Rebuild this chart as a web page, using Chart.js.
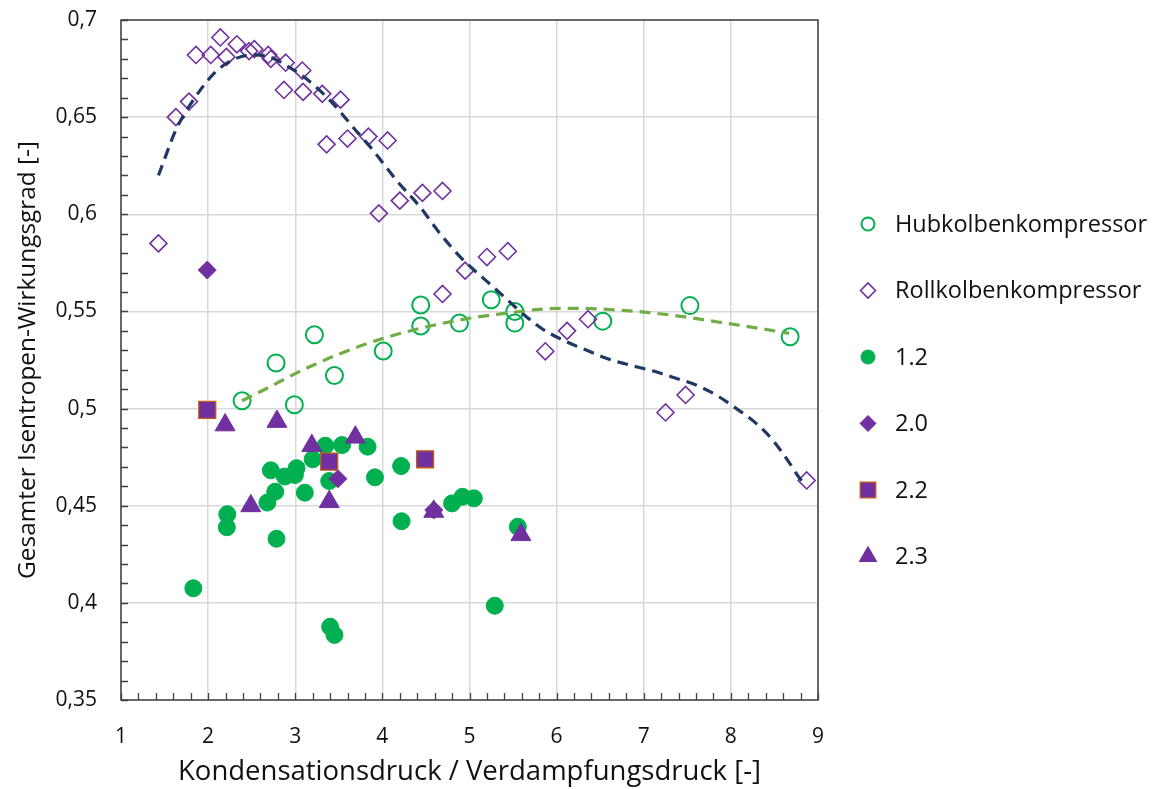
<!DOCTYPE html>
<html>
<head>
<meta charset="utf-8">
<script src="https://cdn.jsdelivr.net/npm/chart.js@4/dist/chart.umd.min.js"></script>
<style>
  html, body { margin: 0; padding: 0; background: #fff; }
  #wrap { width: 1155px; height: 789px; }
</style>
</head>
<body>
<div id="wrap"><canvas id="c"></canvas></div>
<script>
// Hubkolbenkompressor (offene Kreise)
const hubX = [2.39, 2.78, 2.99, 3.22, 3.45, 4.01, 4.44, 4.44, 4.885, 5.25, 5.52, 5.52, 6.53, 7.53, 8.68];
const hubY = [0.504, 0.5235, 0.502, 0.538, 0.517, 0.5296, 0.5533, 0.5425, 0.544, 0.556, 0.550, 0.544, 0.545, 0.553, 0.537];

// Rollkolbenkompressor (offene Rauten)
const rollX = [1.43, 1.63, 1.78, 1.86, 2.03, 2.14, 2.21, 2.33, 2.47, 2.53, 2.69, 2.72, 2.89, 2.87, 3.08, 3.09, 3.31, 3.52,
               3.36, 3.60, 3.84, 4.06, 3.96, 4.20, 4.46, 4.69, 4.95, 5.20, 5.44, 4.69, 5.87, 6.12, 6.36, 7.25, 7.48, 8.87];
const rollY = [0.585, 0.650, 0.658, 0.682, 0.682, 0.691, 0.681, 0.6875, 0.684, 0.685, 0.682, 0.680, 0.678, 0.664, 0.674, 0.663, 0.662, 0.659,
               0.636, 0.639, 0.640, 0.638, 0.6005, 0.607, 0.611, 0.612, 0.571, 0.578, 0.581, 0.559, 0.5295, 0.540, 0.546, 0.498, 0.507, 0.463];

// Serie 1.2
const s12X = [1.83, 2.22, 2.215, 2.785, 2.68, 2.77, 2.72, 2.88, 2.996, 3.015, 3.11, 3.20, 3.345, 3.39, 3.537, 3.83, 3.915,
              4.215, 4.22, 3.40, 3.45, 4.80, 4.92, 5.05, 5.29, 5.555];
const s12Y = [0.4075, 0.4456, 0.4389, 0.433, 0.4516, 0.4572, 0.4682, 0.465, 0.4658, 0.4693, 0.4567, 0.4739, 0.4809, 0.4627, 0.4812, 0.4804, 0.4646,
              0.4704, 0.442, 0.3877, 0.3835, 0.4512, 0.4546, 0.4538, 0.3985, 0.4392];

// Serie 2.0
const s20X = [1.99, 3.49, 4.59];
const s20Y = [0.5713, 0.4639, 0.4478];

// Serie 2.2
const s22X = [1.99, 3.39, 4.49];
const s22Y = [0.4993, 0.4727, 0.4739];

// Serie 2.3
const s23X = [2.195, 2.79, 3.19, 3.69, 2.49, 3.39, 4.59, 5.59];
const s23Y = [0.4915, 0.4933, 0.4809, 0.4852, 0.4499, 0.452, 0.447, 0.435];

// Trendlinien
const trendHubX = [2.39, 2.7, 3.0, 3.5, 4.0, 4.5, 5.0, 5.5, 5.8, 6.26, 6.6, 7.06, 7.5, 7.83, 8.2, 8.67];
const trendHubY = [0.504, 0.511, 0.518, 0.528, 0.536, 0.542, 0.5465, 0.5495, 0.5511, 0.5516, 0.551, 0.5494, 0.547, 0.5447, 0.5422, 0.5387];
const trendRollX = [1.43, 1.63, 1.78, 2.07, 2.28, 2.51, 2.70, 2.89, 3.12, 3.43, 3.66, 3.89, 4.16, 4.43, 4.66, 4.885,
                    5.27, 5.80, 6.07, 6.34, 6.57, 6.84, 7.11, 7.37, 7.60, 7.83, 8.06, 8.29, 8.48, 8.65, 8.79, 8.86];
const trendRollY = [0.620, 0.6434, 0.6554, 0.6726, 0.6794, 0.682, 0.6811, 0.6768, 0.670, 0.6571, 0.645, 0.6331, 0.6176, 0.6039, 0.5902, 0.5785,
                    0.5627, 0.5421, 0.5353, 0.5301, 0.5259, 0.5224, 0.5193, 0.5156, 0.5121, 0.507, 0.5001, 0.4924, 0.4838, 0.4735, 0.4641, 0.4605];

const xTicks = [1, 2, 3, 4, 5, 6, 7, 8, 9];
const yTicks = [0.35, 0.4, 0.45, 0.5, 0.55, 0.6, 0.65, 0.7];

const GREEN = '#00B050';
const PURPLE = '#7030A0';
const FONT = "'Open Sans', 'DejaVu Sans', sans-serif";

function pts(xs, ys) {
    return xs.map((x, i) => ({ x: x, y: ys[i] }));
}

// Legendeneinträge
const legendItems = [
    { text: 'Hubkolbenkompressor', style: 'circle', r: 6.5, fill: '#fff', stroke: GREEN, lw: 2 },
    { text: 'Rollkolbenkompressor', style: 'rectRot', r: 7.5, fill: '#fff', stroke: PURPLE, lw: 1.6 },
    { text: '1.2', style: 'circle', r: 7, fill: GREEN, stroke: GREEN, lw: 1 },
    { text: '2.0', style: 'rectRot', r: 8, fill: PURPLE, stroke: PURPLE, lw: 1 },
    { text: '2.2', style: 'rect', r: 11, fill: PURPLE, stroke: '#C55A11', lw: 1.3 },
    { text: '2.3', style: 'triangle', r: 10, fill: PURPLE, stroke: PURPLE, lw: 1 }
];

const frame = {
    id: 'frame',
    beforeDatasetsDraw(chart) {
        const { ctx, chartArea: a, scales: { x, y } } = chart;
        ctx.save();
        ctx.strokeStyle = '#404040';
        ctx.lineWidth = 1.3;
        ctx.beginPath();
        // kleine Teilstriche nach innen
        for (let i = 0; i <= 40; i++) {
            const px = Math.round(x.getPixelForValue(1 + i * 0.2)) + 0.5;
            ctx.moveTo(px, a.bottom);
            ctx.lineTo(px, a.bottom - 7);
        }
        for (let i = 0; i <= 35; i++) {
            const py = Math.round(y.getPixelForValue(0.35 + i * 0.01)) + 0.5;
            ctx.moveTo(a.left, py);
            ctx.lineTo(a.left + 7, py);
        }
        ctx.stroke();
        ctx.lineWidth = 1.5;
        ctx.strokeRect(a.left, a.top, a.right - a.left, a.bottom - a.top);
        ctx.restore();
    },
    afterDraw(chart) {
        const ctx = chart.ctx;
        ctx.save();
        ctx.font = '23.5px ' + FONT;
        ctx.textBaseline = 'middle';
        legendItems.forEach((it, i) => {
            const cy = 224 + i * 66.5;
            ctx.fillStyle = it.fill;
            ctx.strokeStyle = it.stroke;
            ctx.lineWidth = it.lw;
            Chart.helpers.drawPoint(ctx, { pointStyle: it.style, radius: it.r, borderWidth: it.lw, rotation: 0 }, 868, cy);
            ctx.fillStyle = '#111';
            ctx.fillText(it.text, 895, cy + 1);
        });
        ctx.restore();
    }
};

const ctx = document.getElementById('c').getContext('2d');
new Chart(ctx, {
    type: 'scatter',
    data: {
        datasets: [
            {
                label: 'Trend Hub', data: pts(trendHubX, trendHubY), showLine: true, pointRadius: 0,
                borderColor: '#70AD47', borderWidth: 3.2, borderDash: [11, 7], cubicInterpolationMode: 'monotone', order: 1
            },
            {
                label: 'Trend Roll', data: pts(trendRollX, trendRollY), showLine: true, pointRadius: 0,
                borderColor: '#203864', borderWidth: 3.2, borderDash: [11, 7], cubicInterpolationMode: 'monotone', order: 1
            },
            {
                label: 'Hubkolbenkompressor', data: pts(hubX, hubY), pointStyle: 'circle', pointRadius: 8.5,
                backgroundColor: 'rgba(255,255,255,0)', borderColor: GREEN, borderWidth: 2, order: 10
            },
            {
                label: 'Rollkolbenkompressor', data: pts(rollX, rollY), pointStyle: 'rectRot', pointRadius: 8.5,
                backgroundColor: 'rgba(255,255,255,0)', borderColor: PURPLE, borderWidth: 1.6, order: 9
            },
            {
                label: '1.2', data: pts(s12X, s12Y), pointStyle: 'circle', pointRadius: 8.5,
                backgroundColor: GREEN, borderColor: GREEN, borderWidth: 1, order: 8
            },
            {
                label: '2.0', data: pts(s20X, s20Y), pointStyle: 'rectRot', pointRadius: 9,
                backgroundColor: PURPLE, borderColor: PURPLE, borderWidth: 1, order: 7
            },
            {
                label: '2.2', data: pts(s22X, s22Y), pointStyle: 'rect', pointRadius: 12,
                backgroundColor: PURPLE, borderColor: '#C55A11', borderWidth: 1.3, order: 6
            },
            {
                label: '2.3', data: pts(s23X, s23Y), pointStyle: 'triangle', pointRadius: 11.5,
                backgroundColor: PURPLE, borderColor: PURPLE, borderWidth: 1, order: 5
            }
        ]
    },
    options: {
        responsive: true,
        maintainAspectRatio: false,
        animation: false,
        layout: { padding: { top: 20, right: 337, left: 0, bottom: 0 } },
        plugins: { legend: { display: false }, tooltip: { enabled: false } },
        scales: {
            x: {
                type: 'linear', min: 1, max: 9,
                afterBuildTicks: (s) => { s.ticks = xTicks.map(v => ({ value: v })); },
                afterFit: (s) => { s.height = 89; s.paddingLeft = 0; s.paddingRight = 0; },
                grid: { color: '#D9D9D9', lineWidth: 1.5, drawTicks: false },
                border: { display: false },
                ticks: { padding: 24, color: '#111', font: { family: FONT, size: 21 } },
                title: {
                    display: true, text: 'Kondensationsdruck / Verdampfungsdruck [-]', color: '#111',
                    font: { family: FONT, size: 27.5 }, padding: { top: 0, bottom: 0 }
                }
            },
            y: {
                type: 'linear', min: 0.35, max: 0.7,
                afterBuildTicks: (s) => { s.ticks = yTicks.map(v => ({ value: v })); },
                afterFit: (s) => { s.width = 121; s.paddingTop = 0; s.paddingBottom = 0; },
                grid: { color: '#D9D9D9', lineWidth: 1.5, drawTicks: false },
                border: { display: false },
                ticks: {
                    padding: 24, color: '#111', font: { family: FONT, size: 21 },
                    callback: (v) => String(Math.round(v * 100) / 100).replace('.', ',')
                },
                title: {
                    display: true, text: 'Gesamter Isentropen-Wirkungsgrad [-]', color: '#111',
                    font: { family: FONT, size: 24.4 }, padding: { top: 13, bottom: 0 }
                }
            }
        }
    },
    plugins: [frame]
});
</script>
</body>
</html>
